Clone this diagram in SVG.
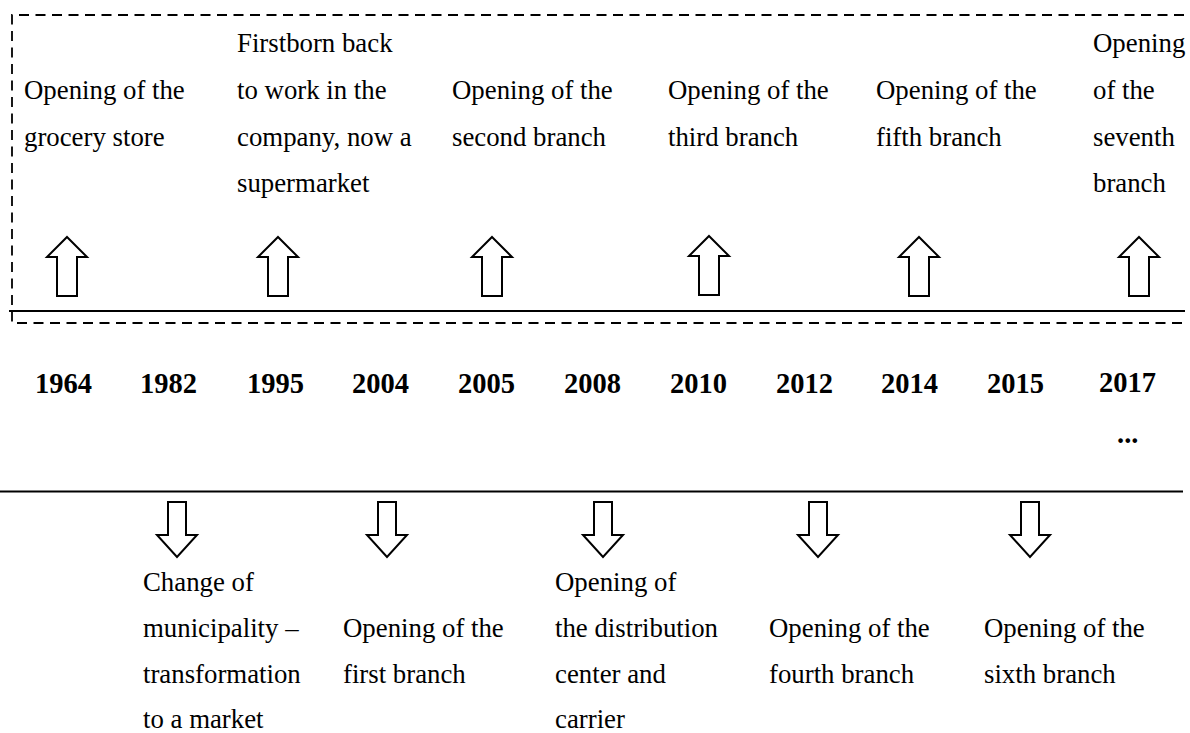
<svg xmlns="http://www.w3.org/2000/svg" width="1190" height="733" viewBox="0 0 1190 733">
<defs>
<style>
.t{font-family:"Liberation Serif","Times New Roman",serif;font-size:26.8px;fill:#000}
.y{font-family:"Liberation Serif","Times New Roman",serif;font-size:28.5px;font-weight:bold;fill:#000}
.ln{stroke:#000;stroke-width:2;fill:none}
.dash{stroke:#000;stroke-width:1.8;fill:none;stroke-dasharray:10 6.5}
.arr{fill:#fff;stroke:#000;stroke-width:2;stroke-linejoin:miter}
</style>
<path id="up" d="M0,0 L20,20 L10,20 L10,59 L-10,59 L-10,20 L-20,20 Z"/>
<path id="dn" d="M-9,0 L9,0 L9,33 L20,33 L0,55 L-20,33 L-9,33 Z"/>
</defs>
<rect width="1190" height="733" fill="#fff"/>
<g id="connectors">
<path class="dash" d="M1184,15 H12 V323 H1184"/>
<line class="ln" x1="9" y1="311" x2="1185" y2="311"/>
<line class="ln" x1="0" y1="491.5" x2="1183" y2="491.5"/>
<use href="#up" class="arr" x="67" y="237"/>
<use href="#up" class="arr" x="278" y="237"/>
<use href="#up" class="arr" x="492" y="237"/>
<use href="#up" class="arr" x="709" y="236"/>
<use href="#up" class="arr" x="919" y="237"/>
<use href="#up" class="arr" x="1139" y="237"/>
<use href="#dn" class="arr" x="177" y="502"/>
<use href="#dn" class="arr" x="387" y="502"/>
<use href="#dn" class="arr" x="603" y="502"/>
<use href="#dn" class="arr" x="818" y="502"/>
<use href="#dn" class="arr" x="1030" y="502"/>
</g>
<g id="years">
<text class="y" x="35" y="393">1964</text>
<text class="y" x="140" y="393">1982</text>
<text class="y" x="247" y="393">1995</text>
<text class="y" x="352" y="393">2004</text>
<text class="y" x="458" y="393">2005</text>
<text class="y" x="564" y="393">2008</text>
<text class="y" x="670" y="393">2010</text>
<text class="y" x="776" y="393">2012</text>
<text class="y" x="881" y="393">2014</text>
<text class="y" x="987" y="393">2015</text>
<text class="y" x="1099" y="392">2017</text>
<text class="y" x="1117" y="443">...</text>
</g>
<g id="n1964"><text class="t" x="24" y="99">Opening of the</text><text class="t" x="24" y="146">grocery store</text></g>
<g id="n1995"><text class="t" x="237" y="52">Firstborn back</text><text class="t" x="237" y="99">to work in the</text><text class="t" x="237" y="146">company, now a</text><text class="t" x="237" y="192">supermarket</text></g>
<g id="n2005"><text class="t" x="452" y="99">Opening of the</text><text class="t" x="452" y="146">second branch</text></g>
<g id="n2010"><text class="t" x="668" y="99">Opening of the</text><text class="t" x="668" y="146">third branch</text></g>
<g id="n2014"><text class="t" x="876" y="99">Opening of the</text><text class="t" x="876" y="146">fifth branch</text></g>
<g id="n2017"><text class="t" x="1093" y="52">Opening</text><text class="t" x="1093" y="99">of the</text><text class="t" x="1093" y="146">seventh</text><text class="t" x="1093" y="192">branch</text></g>
<g id="n1982"><text class="t" x="143" y="591">Change of</text><text class="t" x="143" y="637">municipality –</text><text class="t" x="143" y="683">transformation</text><text class="t" x="143" y="728">to a market</text></g>
<g id="n2004"><text class="t" x="343" y="637">Opening of the</text><text class="t" x="343" y="683">first branch</text></g>
<g id="n2008"><text class="t" x="555" y="591">Opening of</text><text class="t" x="555" y="637">the distribution</text><text class="t" x="555" y="683">center and</text><text class="t" x="555" y="728">carrier</text></g>
<g id="n2012"><text class="t" x="769" y="637">Opening of the</text><text class="t" x="769" y="683">fourth branch</text></g>
<g id="n2015"><text class="t" x="984" y="637">Opening of the</text><text class="t" x="984" y="683">sixth branch</text></g>
</svg>
